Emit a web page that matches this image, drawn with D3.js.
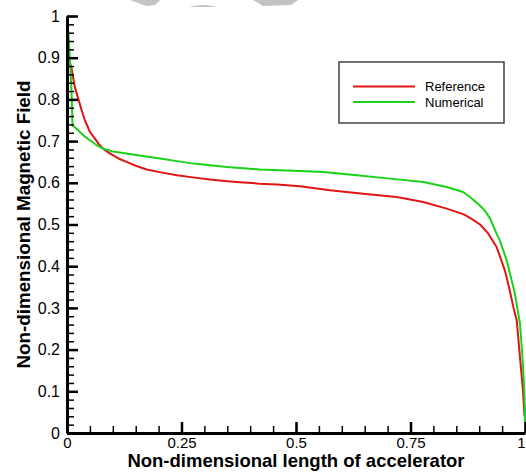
<!DOCTYPE html>
<html>
<head>
<meta charset="utf-8">
<script src="https://cdn.jsdelivr.net/npm/d3@7"></script>
<style>
  html, body { margin: 0; padding: 0; background: #ffffff; }
  svg { display: block; font-family: "Liberation Sans", Arial, sans-serif; }
</style>
</head>
<body>
<svg id="chart" width="526" height="472"></svg>
<script>
// ---- data ----
const seriesNames = ["Reference", "Numerical"];
const seriesColors = ["#e01515", "#1ad21a"];

const refX = [0, 0.003, 0.010, 0.017, 0.025, 0.032, 0.039, 0.050, 0.061, 0.070, 0.079, 0.090, 0.101, 0.115, 0.130, 0.150, 0.174, 0.205, 0.240, 0.275, 0.312, 0.350, 0.385, 0.420, 0.458, 0.509, 0.574, 0.647, 0.720, 0.778, 0.829, 0.865, 0.880, 0.902, 0.920, 0.938, 0.956, 0.965, 0.975, 0.982, 0.989, 0.995, 0.999];
const refY = [0.910, 0.900, 0.874, 0.830, 0.800, 0.774, 0.750, 0.722, 0.706, 0.692, 0.682, 0.673, 0.666, 0.657, 0.650, 0.641, 0.632, 0.625, 0.618, 0.613, 0.608, 0.604, 0.601, 0.598, 0.596, 0.592, 0.582, 0.574, 0.566, 0.554, 0.538, 0.525, 0.516, 0.500, 0.478, 0.446, 0.390, 0.350, 0.300, 0.270, 0.182, 0.110, 0.040];

const numX = [0, 0.003, 0.0066, 0.010, 0.012, 0.020, 0.028, 0.040, 0.050, 0.065, 0.079, 0.100, 0.130, 0.165, 0.203, 0.240, 0.276, 0.312, 0.349, 0.385, 0.421, 0.465, 0.509, 0.560, 0.633, 0.705, 0.778, 0.829, 0.865, 0.880, 0.902, 0.913, 0.924, 0.938, 0.945, 0.960, 0.978, 0.989, 0.994, 0.998, 1.000, 1.000];
const numY = [0.970, 0.962, 0.894, 0.814, 0.738, 0.730, 0.722, 0.710, 0.702, 0.690, 0.682, 0.675, 0.670, 0.664, 0.658, 0.652, 0.646, 0.642, 0.638, 0.635, 0.632, 0.630, 0.628, 0.626, 0.618, 0.610, 0.602, 0.590, 0.578, 0.566, 0.545, 0.532, 0.514, 0.478, 0.462, 0.414, 0.334, 0.262, 0.190, 0.110, 0.054, 0.020];

const xTickValues = [0, 0.25, 0.5, 0.75, 1];
const xTickLabels = ["0", "0.25", "0.5", "0.75", "1"];
const yTickValues = [0, 0.1, 0.2, 0.3, 0.4, 0.5, 0.6, 0.7, 0.8, 0.9, 1];
const yTickLabels = ["0", "0.1", "0.2", "0.3", "0.4", "0.5", "0.6", "0.7", "0.8", "0.9", "1"];
const xMinorTicks = d3.range(0, 1.0001, 0.05);
const yMinorTicks = d3.range(0, 1.0001, 0.02);

const xTitle = "Non-dimensional length of accelerator";
const yTitle = "Non-dimensional Magnetic Field";

// ---- layout ----
const svg = d3.select("#chart");
const mLeft = 67, mRight = 525, mTop = 16, mBottom = 433;

const x = d3.scaleLinear().domain([0, 1]).range([mLeft, mRight]);
const y = d3.scaleLinear().domain([0, 1]).range([mBottom, mTop]);

// watermark fragments at the top edge
const wm = svg.append("g").attr("fill", "#c3c3c3");
wm.append("path").attr("d", "M130,0 L160,0 L155,5 L146,6 Z");
wm.append("path").attr("d", "M189,7 Q203,3 217,7 Z");
wm.append("path").attr("d", "M253,0 L298,0 L291,5 L263,6 Z");

// curves
const series = [
  { name: seriesNames[0], color: seriesColors[0], pts: refX.map((v, i) => [v, refY[i]]) },
  { name: seriesNames[1], color: seriesColors[1], pts: numX.map((v, i) => [v, numY[i]]) }
];
const line = d3.line().x(d => x(d[0])).y(d => y(d[1]));
svg.append("g").selectAll("path").data(series).join("path")
  .attr("d", d => line(d.pts))
  .attr("fill", "none")
  .attr("stroke", d => d.color)
  .attr("stroke-width", 2)
  .attr("stroke-linejoin", "round");

// minor ticks
svg.append("g").attr("transform", `translate(${mLeft},0)`)
  .call(d3.axisLeft(y).tickValues(yMinorTicks).tickSize(-7).tickSizeOuter(0).tickFormat(""))
  .call(g => g.select(".domain").remove())
  .call(g => g.selectAll("line").attr("stroke", "#000").attr("stroke-width", 1.5));
svg.append("g").attr("transform", `translate(0,${mBottom})`)
  .call(d3.axisBottom(x).tickValues(xMinorTicks).tickSize(-7).tickSizeOuter(0).tickFormat(""))
  .call(g => g.select(".domain").remove())
  .call(g => g.selectAll("line").attr("stroke", "#000").attr("stroke-width", 1.5));

// major axes
const yAxis = svg.append("g").attr("transform", `translate(${mLeft},0)`)
  .call(d3.axisLeft(y).tickValues(yTickValues).tickSize(-11).tickSizeOuter(0).tickPadding(7)
    .tickFormat((d, i) => yTickLabels[i]));
const xAxis = svg.append("g").attr("transform", `translate(0,${mBottom})`)
  .call(d3.axisBottom(x).tickValues(xTickValues).tickSize(-11).tickSizeOuter(0).tickPadding(4)
    .tickFormat((d, i) => xTickLabels[i]));
[yAxis, xAxis].forEach(g => {
  g.select(".domain").attr("stroke", "#000").attr("stroke-width", 3);
  g.selectAll(".tick line").attr("stroke", "#000").attr("stroke-width", 2.5);
  g.selectAll(".tick text").attr("fill", "#000")
    .style("font-family", '"Liberation Sans", Arial, sans-serif');
});
yAxis.selectAll(".tick text").style("font-size", "16px");
xAxis.selectAll(".tick text").style("font-size", "15px")
  .attr("dx", (d, i) => i === xTickValues.length - 1 ? -4 : 0);

// axis titles
svg.append("text")
  .attr("x", (mLeft + mRight) / 2).attr("y", 467)
  .attr("text-anchor", "middle")
  .style("font-size", "18.5px").style("font-weight", "bold")
  .text(xTitle);
svg.append("text")
  .attr("transform", `translate(29.5,${(mTop + mBottom) / 2}) rotate(-90)`)
  .attr("text-anchor", "middle")
  .style("font-size", "18.8px").style("font-weight", "bold")
  .text(yTitle);

// legend
const lg = svg.append("g");
lg.append("rect").attr("x", 339).attr("y", 62).attr("width", 165).attr("height", 61)
  .attr("fill", "#fff").attr("stroke", "#444").attr("stroke-width", 1.5);
const rows = lg.selectAll("g.row").data(series).join("g").attr("class", "row")
  .attr("transform", (d, i) => `translate(0,${86.5 + i * 15.5})`);
rows.append("line").attr("x1", 353).attr("x2", 415).attr("y1", 0).attr("y2", 0)
  .attr("stroke", d => d.color).attr("stroke-width", 2);
rows.append("text").attr("x", 425).attr("y", 0).attr("dy", "0.35em")
  .style("font-size", "13px").text(d => d.name);
</script>
</body>
</html>
